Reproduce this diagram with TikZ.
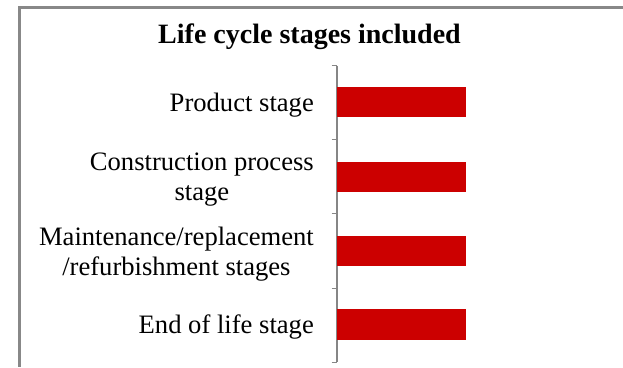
\documentclass[tikz,border=0pt]{standalone}
\usepackage{fontspec}
\setmainfont{Liberation Serif}
\definecolor{framegray}{HTML}{888888}
\definecolor{axisgray}{HTML}{868686}
\definecolor{barred}{HTML}{CC0000}
\tikzset{
  framestyle/.style={draw=framegray, line width=3pt, line join=miter},
  axisline/.style={draw=axisgray, line width=1.1pt},
  barstyle/.style={fill=barred, draw=none},
  catlabel/.style={anchor=east, inner sep=0pt, align=center,
    font=\fontsize{26.6}{30}\selectfont},
  titlestyle/.style={anchor=base, inner sep=0pt,
    font=\fontsize{28}{32}\selectfont\bfseries}
}
\begin{document}
\begin{tikzpicture}[x=1pt, y=-1pt]
\useasboundingbox (0,0) rectangle (623,367);
% frame
\coordinate (ftr) at (623,7.3);
\coordinate (ftl) at (19,7.3);
\coordinate (fbl) at (19,367);
\draw[framestyle] (ftr) -- (ftl) -- (fbl);
% title
\node[titlestyle] (title) at (309.5,43) {Life cycle stages included};
% axis
\coordinate (atop) at (337,65.5);
\coordinate (abot) at (337,362.3);
\draw[axisline] (atop) -- (abot);
\foreach \y [count=\i] in {65.5,139.7,213.9,288.1,362.3} {
  \coordinate (t\i) at (337,\y);
  \coordinate (tl\i) at (331.5,\y);
  \draw[axisline] (tl\i) -- (t\i);
}
% bars
\foreach \c [count=\i] in {102.0,176.8,251.0,324.4} {
  \path[barstyle] (337,\c-15.3) rectangle (465.7,\c+15.3);
  \node[inner sep=0pt, minimum size=0pt] (bar\i) at (401.3,\c) {};
}
% labels
\node[catlabel] (lab1) at (314,105.2) {Product stage};
\node[catlabel] (lab2) at (314,179.8) {Construction process\\stage};
\node[catlabel] (lab3) at (314,254.2) {Maintenance/replacement\\/refurbishment stages};
\node[catlabel] (lab4) at (314,327.2) {End of life stage};
\end{tikzpicture}
\end{document}
